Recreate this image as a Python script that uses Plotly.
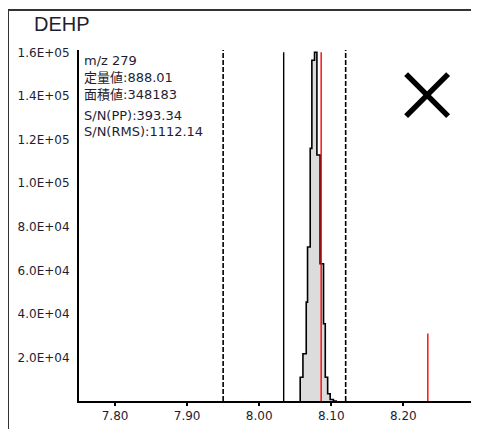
import plotly.graph_objects as go

# ---- data ----
rt = [8.0569, 8.0607, 8.0653, 8.0671, 8.0708, 8.0731, 8.0768, 8.0801,
      8.0845, 8.0893, 8.0917, 8.0950, 8.0985, 8.1030, 8.1080]
intensity = [0, 10900, 21700, 45400, 70700, 116000, 156500, 160200,
             113000, 63000, 35500, 10900, 3300, 700, 0]

window_rt = [7.95, 8.12]          # dashed integration window
start_rt = 8.034                  # solid black marker
red_rt = [8.086, 8.234]           # red reference lines
red_height = [160200, 31000]
line_top = 161200

x_mark_rt = [8.233]
x_mark_int = [140500]

xtick_vals = [7.80, 7.90, 8.00, 8.10, 8.20]
xtick_text = ["7.80", "7.90", "8.00", "8.10", "8.20"]
ytick_vals = [20000, 40000, 60000, 80000, 100000, 120000, 140000, 160000]
ytick_text = ["2.0E+04", "4.0E+04", "6.0E+04", "8.0E+04", "1.0E+05",
              "1.2E+05", "1.4E+05", "1.6E+05"]

info_lines = ["m/z 279", "定量値:888.01", "面積値:348183",
              "S/N(PP):393.34", "S/N(RMS):1112.14"]
title_text = "DEHP"

FONT = "DejaVu Sans, Noto Sans CJK JP, sans-serif"
TFONT = "Liberation Sans, Arial, sans-serif"
TXT = "#1e1e32"

fig = go.Figure()

# peak
fig.add_trace(go.Scatter(x=rt, y=intensity, mode="lines", line_shape="vh",
                         line=dict(color="black", width=1.6),
                         fill="tozeroy", fillcolor="#dcdcdc",
                         hoverinfo="skip", showlegend=False))

# dashed window lines
for w in window_rt:
    fig.add_trace(go.Scatter(x=[w, w], y=[0, line_top], mode="lines",
                             line=dict(color="black", width=1.6, dash="5px,2px"),
                             showlegend=False, hoverinfo="skip"))
# solid start line
fig.add_trace(go.Scatter(x=[start_rt, start_rt], y=[0, red_height[0]], mode="lines",
                         line=dict(color="black", width=1.4),
                         showlegend=False, hoverinfo="skip"))
# red lines
for r, h in zip(red_rt, red_height):
    fig.add_trace(go.Scatter(x=[r, r], y=[0, h], mode="lines",
                             line=dict(color="#ff0000", width=1.4),
                             showlegend=False, hoverinfo="skip"))

# big X mark
fig.add_trace(go.Scatter(x=x_mark_rt, y=x_mark_int, mode="markers",
                         marker=dict(symbol="x-thin", size=42,
                                     line=dict(color="black", width=5.5)),
                         showlegend=False, hoverinfo="skip"))

# info text
info_y = [0.9715, 0.923, 0.8746, 0.8148, 0.7664]
for t, yy in zip(info_lines, info_y):
    fig.add_annotation(text=t, xref="paper", yref="paper", x=0.0075, y=yy,
                       xanchor="left", yanchor="middle", showarrow=False,
                       font=dict(family=FONT, size=13, color=TXT))

# title
fig.add_annotation(text=title_text, xref="paper", yref="paper", x=-0.1175, y=1.074,
                   xanchor="left", yanchor="middle", showarrow=False,
                   font=dict(family=TFONT, size=20, color=TXT))

# outer frame (left and top edges)
fig.add_shape(type="line", xref="paper", yref="paper",
              x0=-0.1775, x1=-0.1775, y0=1.114, y1=-0.2,
              line=dict(color="#333333", width=2))
fig.add_shape(type="line", xref="paper", yref="paper",
              x0=-0.1775, x1=1.1, y0=1.114, y1=1.114,
              line=dict(color="#333333", width=2))

fig.update_layout(
    width=471, height=421,
    margin=dict(l=71, r=0, t=42, b=28),
    paper_bgcolor="white", plot_bgcolor="white",
    font=dict(family=FONT, size=12, color=TXT),
    xaxis=dict(range=[7.75, 8.305], tickvals=xtick_vals, ticktext=xtick_text,
               ticks="outside", ticklen=3, tickcolor="black", tickwidth=1.5,
               showline=True, linecolor="black", linewidth=2,
               showgrid=False, zeroline=False,
               tickfont=dict(family=FONT, size=12, color=TXT)),
    yaxis=dict(range=[0, 161200], tickvals=ytick_vals, ticktext=ytick_text,
               ticks="", showline=True, linecolor="black", linewidth=2,
               showgrid=False, zeroline=False, ticklabelstandoff=5,
               tickfont=dict(family=FONT, size=12, color=TXT)),
)

fig.write_html("out.html")
